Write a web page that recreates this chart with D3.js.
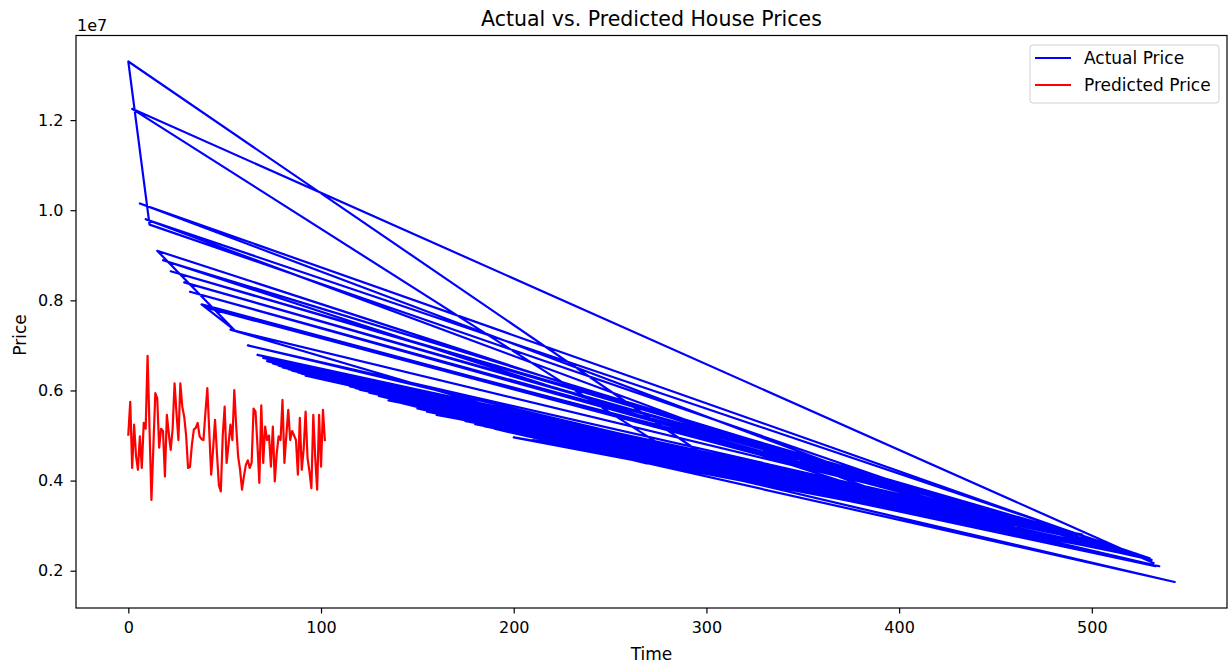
<!DOCTYPE html>
<html>
<head>
<meta charset="utf-8">
<script src="https://cdn.jsdelivr.net/npm/d3@7/dist/d3.min.js"></script>
<style>
  html, body { margin: 0; padding: 0; background: #fff; }
  text { font-family: "DejaVu Sans", sans-serif; fill: #000; }
</style>
</head>
<body>
<svg id="chart" width="1231" height="664"></svg>
<script>
// ---- Data ----
const title = "Actual vs. Predicted House Prices";
const xLabel = "Time";
const yLabel = "Price";
const seriesNames = ["Actual Price", "Predicted Price"];
const xTicks = [0, 100, 200, 300, 400, 500];
const yTicks = [2000000, 4000000, 6000000, 8000000, 10000000, 12000000];
const yOffsetLabel = "1e7";

// Actual price: test-set index (x) and price (y), in plotted order
const actualTime = [532, 2, 300, 78, 528, 6, 430, 15, 55, 38, 525, 22, 490, 40, 530, 9, 410, 18, 460, 29, 465, 53,
  317, 0, 11, 450, 32, 480, 62, 531, 72, 500, 120, 523, 88, 470, 150, 533, 95, 475, 67, 445,
  180, 522, 140, 269, 75, 395, 110, 485, 200, 527, 85, 440, 160, 425, 100, 495, 130, 543, 190, 435,
  80, 478, 170, 529, 105, 488, 230, 448, 73, 420, 145, 526, 115, 502, 90, 483, 210, 521, 125, 415,
  165, 535, 70, 492, 135, 456, 98, 468, 155, 482, 250, 524, 83, 405, 185, 472, 118, 519, 142, 493,
  92, 438, 175];
const actualPrice = [2170000, 12250000, 4150000, 6550000, 2275000, 10150000, 3330000, 9100000, 7343000, 7910000,
  2345000, 8645000, 2840000, 7840000, 2275000, 9800000, 3430000, 8890000, 3120000, 8400000, 3100000, 7350000,
  4030000, 13300000, 9681000, 3200000, 8190000, 2920000, 7000000, 2240000, 6650000, 2660000,
  6020000, 2380000, 6400000, 3060000, 5600000, 2100000, 6300000, 3000000, 6790000, 3220000,
  5250000, 2380000, 5740000, 4380000, 6600000, 3500000, 6160000, 2870000, 4960000, 2310000,
  6440000, 3240000, 5460000, 3360000, 6300000, 2800000, 5880000, 1750000, 5150000, 3290000,
  6510000, 2940000, 5380000, 2275000, 6230000, 2850000, 4760000, 3220000, 6650000, 3395000,
  5690000, 2310000, 6090000, 2640000, 6370000, 2890000, 4900000, 2380000, 5950000, 3410000,
  5430000, 2100000, 6720000, 2820000, 5780000, 3150000, 6300000, 3080000, 5530000, 2900000,
  4600000, 2345000, 6475000, 3450000, 5200000, 3050000, 6050000, 2415000, 5740000, 2800000,
  6330000, 3255000, 5320000];

// Predicted price: plotted against 0..102
const predictedPrice = [5020000, 5750000, 4280000, 5240000, 4550000, 4240000, 4980000, 4280000, 5280000, 5150000,
  6770000, 5150000, 3570000, 4750000, 5940000, 5830000, 4730000, 5150000, 5100000, 4090000,
  5460000, 5050000, 4680000, 5150000, 6160000, 5500000, 4900000, 6160000, 5640000, 5420000,
  5000000, 4280000, 4300000, 4800000, 5130000, 5170000, 5280000, 4980000, 4920000, 4900000,
  5500000, 6050000, 5100000, 4130000, 4700000, 5350000, 4600000, 3900000, 3760000, 5000000,
  5640000, 4390000, 4800000, 5240000, 4900000, 6010000, 5200000, 4530000, 4240000, 3800000,
  4100000, 4350000, 4450000, 4280000, 4400000, 5600000, 5530000, 4800000, 3950000, 5670000,
  4390000, 5200000, 4900000, 5000000, 4310000, 5200000, 3980000, 4600000, 4980000, 4900000,
  5790000, 4390000, 5000000, 5570000, 4900000, 5100000, 5000000, 4900000, 4130000, 5390000,
  4240000, 4700000, 5530000, 4500000, 4200000, 3830000, 5460000, 4500000, 3800000, 5460000,
  4310000, 5570000, 4900000];

// ---- Build ----
const actual = actualTime.map((t, i) => ({ x: t, y: actualPrice[i] }));
const predicted = predictedPrice.map((v, i) => ({ x: i, y: v }));

const svg = d3.select("#chart");
svg.append("rect").attr("width", 1231).attr("height", 664).attr("fill", "#fff");

const frame = { left: 76, right: 1227, top: 35.5, bottom: 608 };

const allX = actual.map(d => d.x).concat(predicted.map(d => d.x));
const allY = actual.map(d => d.y).concat(predicted.map(d => d.y));
const [x0, x1] = d3.extent(allX);
const [y0, y1] = d3.extent(allY);
const xPad = (x1 - x0) * 0.05, yPad = (y1 - y0) * 0.05;

const x = d3.scaleLinear().domain([x0 - xPad, x1 + xPad]).range([frame.left, frame.right]);
const y = d3.scaleLinear().domain([y0 - yPad, y1 + yPad]).range([frame.bottom, frame.top]);

const clipId = "plotclip";
svg.append("clipPath").attr("id", clipId).append("rect")
  .attr("x", frame.left).attr("y", frame.top)
  .attr("width", frame.right - frame.left).attr("height", frame.bottom - frame.top);

const line = d3.line().x(d => x(d.x)).y(d => y(d.y));

const plot = svg.append("g").attr("clip-path", `url(#${clipId})`);
plot.append("path").datum(actual)
  .attr("d", line).attr("fill", "none").attr("stroke", "#0000ff")
  .attr("stroke-width", 2.2).attr("stroke-linejoin", "round").attr("stroke-linecap", "square");
plot.append("path").datum(predicted)
  .attr("d", line).attr("fill", "none").attr("stroke", "#ff0000")
  .attr("stroke-width", 2.2).attr("stroke-linejoin", "round").attr("stroke-linecap", "square");

// Axes
const tickFont = 16;
const labelFont = 17;
const xAxis = d3.axisBottom(x).tickValues(xTicks).tickFormat(d3.format("d"))
  .tickSize(5.5).tickSizeOuter(0).tickPadding(8);
const gx = svg.append("g").attr("transform", `translate(0,${frame.bottom})`).call(xAxis);
const yAxis = d3.axisLeft(y).tickValues(yTicks).tickFormat(d => (d / 1e7).toFixed(1))
  .tickSize(5.5).tickSizeOuter(0).tickPadding(7);
const gy = svg.append("g").attr("transform", `translate(${frame.left},0)`).call(yAxis);
[gx, gy].forEach(g => {
  g.select(".domain").remove();
  g.selectAll("line").attr("stroke", "#000").attr("stroke-width", 1.2);
  g.selectAll("text").style("font-family", '"DejaVu Sans", sans-serif')
    .style("font-size", tickFont + "px").attr("fill", "#000");
});

// Frame
svg.append("rect")
  .attr("x", frame.left).attr("y", frame.top)
  .attr("width", frame.right - frame.left).attr("height", frame.bottom - frame.top)
  .attr("fill", "none").attr("stroke", "#000").attr("stroke-width", 1.2);

// Offset text
svg.append("text").attr("x", frame.left + 1).attr("y", 31)
  .style("font-size", tickFont + "px").text(yOffsetLabel);

// Title and labels
const cx = (frame.left + frame.right) / 2;
svg.append("text").attr("x", cx).attr("y", 26).attr("text-anchor", "middle")
  .style("font-size", "20.5px").text(title);
svg.append("text").attr("x", cx).attr("y", 660).attr("text-anchor", "middle")
  .style("font-size", labelFont + "px").text(xLabel);
svg.append("text")
  .attr("transform", `translate(26,335) rotate(-90)`)
  .attr("text-anchor", "middle").style("font-size", labelFont + "px").text(yLabel);

// Legend
const legend = svg.append("g");
legend.append("rect").attr("x", 1030).attr("y", 45).attr("width", 189).attr("height", 58)
  .attr("rx", 3).attr("fill", "#fff").attr("fill-opacity", 0.8)
  .attr("stroke", "#d0d0d0").attr("stroke-width", 1);
const colors = ["#0000ff", "#ff0000"];
seriesNames.forEach((name, i) => {
  const ly = 58 + i * 27;
  legend.append("line").attr("x1", 1035).attr("x2", 1071).attr("y1", ly).attr("y2", ly)
    .attr("stroke", colors[i]).attr("stroke-width", 2.2);
  legend.append("text").attr("x", 1084).attr("y", ly + 6)
    .style("font-size", labelFont + "px").text(name);
});
</script>
</body>
</html>
